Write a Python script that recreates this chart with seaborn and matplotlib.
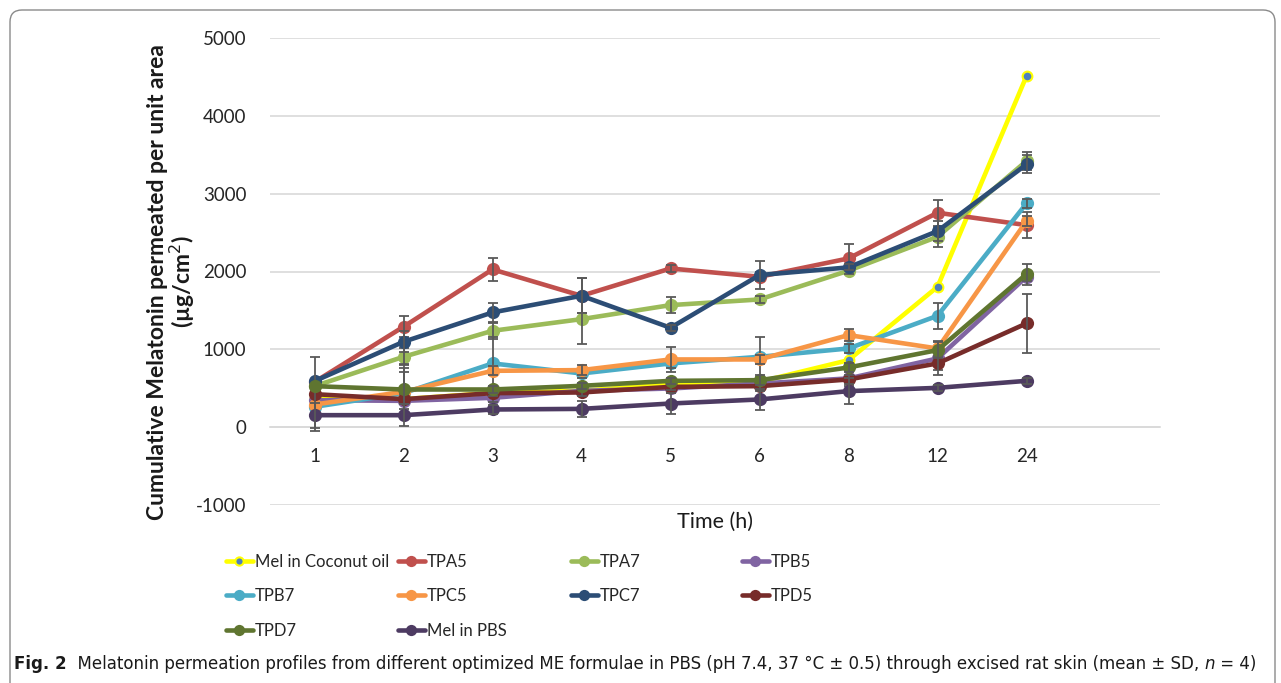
import numpy as np
import pandas as pd
import matplotlib
matplotlib.use("Agg")
import matplotlib.pyplot as plt
import seaborn as sns
from matplotlib.patches import FancyBboxPatch
from matplotlib.transforms import IdentityTransform

# ---------------- data ----------------
time_labels = ["1", "2", "3", "4", "5", "6", "8", "12", "24"]

mel_coconut = [369, 360, 441, 467, 553, 583, 861, 1803, 4511]
tpa5 = [580, 1290, 2027, 1688, 2039, 1932, 2168, 2755, 2596]
tpa7 = [527, 904, 1238, 1388, 1568, 1641, 2010, 2446, 3420]
tpb5 = [347, 338, 377, 467, 497, 561, 626, 883, 1932]
tpb7 = [261, 437, 819, 690, 819, 904, 1011, 1431, 2875]
tpc5 = [291, 454, 724, 733, 870, 870, 1183, 1011, 2648]
tpc7 = [591, 1097, 1474, 1688, 1277, 1954, 2053, 2519, 3376]
tpd5 = [424, 360, 437, 446, 518, 527, 613, 819, 1333]
tpd7 = [527, 484, 484, 531, 595, 604, 767, 990, 1967]
mel_pbs = [154, 154, 227, 235, 304, 356, 463, 505, 595]

sd_coconut = [0, 0, 0, 0, 0, 0, 0, 0, 0]
sd_tpa5 = [0, 135, 150, 225, 40, 60, 180, 170, 170]
sd_tpa7 = [0, 107, 100, 320, 107, 40, 40, 130, 115]
sd_tpb5 = [0, 100, 60, 60, 60, 60, 100, 150, 60]
sd_tpb7 = [0, 270, 340, 60, 60, 256, 60, 170, 60]
sd_tpc5 = [0, 300, 60, 60, 160, 60, 75, 100, 60]
sd_tpc7 = [0, 135, 120, 225, 40, 180, 40, 130, 115]
sd_tpd5 = [475, 60, 40, 40, 40, 60, 60, 150, 375]
sd_tpd7 = [0, 330, 40, 40, 40, 60, 60, 100, 135]
sd_pbs = [160, 140, 60, 107, 140, 140, 167, 40, 40]

series_names = ["Mel in Coconut oil", "TPA5", "TPA7", "TPB5", "TPB7",
                "TPC5", "TPC7", "TPD5", "TPD7", "Mel in PBS"]
series_values = [mel_coconut, tpa5, tpa7, tpb5, tpb7, tpc5, tpc7, tpd5, tpd7, mel_pbs]
series_sd = [sd_coconut, sd_tpa5, sd_tpa7, sd_tpb5, sd_tpb7, sd_tpc5, sd_tpc7,
             sd_tpd5, sd_tpd7, sd_pbs]
series_colors = ["#FFFF00", "#C0504D", "#9BBB59", "#8064A2", "#4BACC6",
                 "#F79646", "#2C4D75", "#772C2A", "#5F7530", "#4D3B62"]

y_ticks = [-1000, 0, 1000, 2000, 3000, 4000, 5000]

# ---------------- style ----------------
sns.set_theme(style="white")
plt.rcParams['font.family'] = ['Lato', 'DejaVu Sans']
W, H = 1281, 683
fig = plt.figure(figsize=(W / 100, H / 100), dpi=100)
fig.patch.set_facecolor("white")

ax = fig.add_axes([270 / W, 1 - 505 / H, 890 / W, 467 / H])

xpos = np.arange(len(time_labels))
for i, (name, vals, sd, col) in enumerate(zip(series_names, series_values, series_sd, series_colors)):
    z = 3 + i * 0.1
    vals = np.asarray(vals, float)
    sd = np.asarray(sd, float)
    if name == "Mel in Coconut oil":
        kw = dict(marker="o", markersize=7, markerfacecolor="#4F81BD",
                  markeredgecolor="#FFFF00", markeredgewidth=1.5)
    else:
        kw = dict(marker="o", markersize=9.5, markerfacecolor=col,
                  markeredgecolor=col, markeredgewidth=0)
    sns.lineplot(x=xpos, y=vals, color=col, linewidth=3.3, label=name,
                 sort=False, errorbar=None, ax=ax, zorder=z, **kw)
    m = sd > 0
    if m.any():
        ax.errorbar(xpos[m], vals[m], yerr=sd[m], fmt="none", ecolor="#595959",
                    elinewidth=1.3, capsize=3.5, capthick=1.3, zorder=z + 0.05)

# spines first (set_position resets ticks)
for s in ["top", "right", "left"]:
    ax.spines[s].set_visible(False)
ax.spines["bottom"].set_position(("data", 0))
ax.spines["bottom"].set_color("#D9D9D9")
ax.spines["bottom"].set_linewidth(1.2)

ax.set_xlim(-0.5, 9.5)
ax.set_ylim(-1000, 5000)
ax.set_yticks(y_ticks)
ax.set_yticklabels([str(t) for t in y_ticks])
ax.set_xticks(xpos)
ax.set_xticklabels(time_labels)
ax.tick_params(axis="both", length=0, labelsize=13.5, labelcolor="#262626")
ax.tick_params(axis="x", pad=15)
ax.tick_params(axis="y", pad=17)
ax.yaxis.grid(True, color="#D9D9D9", linewidth=1.2)
ax.xaxis.grid(False)
ax.set_axisbelow(True)

ax.set_ylabel("Cumulative Melatonin permeated per unit area\n(µg/cm$^{2}$)",
              fontsize=16.5, fontweight="bold", color="#1a1a1a", linespacing=1.0, va="center")
ax.yaxis.set_label_coords((172 - 270) / 890, (505 - 282) / 467)
ax.set_xlabel("Time (h)", fontsize=15.5, color="#1a1a1a", va="center")
ax.xaxis.set_label_coords(0.5, (505 - 522) / 467)

# legend: 4 columns laid out row-wise, uniform column width
handles, labels = ax.get_legend_handles_labels()
if ax.get_legend() is not None:
    ax.get_legend().remove()
hmap = dict(zip(labels, handles))
columns = [["Mel in Coconut oil", "TPB7", "TPD7"],
           ["TPA5", "TPC5", "Mel in PBS"],
           ["TPA7", "TPC7"],
           ["TPB5", "TPD5"]]
col_x = [226, 398, 571, 742]
for cx, names in zip(col_x, columns):
    fig.legend([hmap[n] for n in names], names, loc="upper left",
               bbox_to_anchor=(cx / W, 1 - 554 / H), frameon=False,
               fontsize=12, handlelength=1.6, handletextpad=0.12,
               labelspacing=1.1, borderpad=0, borderaxespad=0, markerscale=0.85)

# border
border = FancyBboxPatch((10, -30), 1265, 673 + 30 - 0,
                        boxstyle="round,pad=0,rounding_size=12",
                        transform=IdentityTransform(), facecolor="none",
                        edgecolor="#8a8a8a", linewidth=1.0)
fig.patches.append(border)

# caption
fig.canvas.draw()
renderer = fig.canvas.get_renderer()
segments = [("Fig. 2", "bold", "normal"),
            ("  Melatonin permeation profiles from different optimized ME formulae in PBS (pH 7.4, 37 °C ± 0.5) through excised rat skin (mean ± SD, ", "normal", "normal"),
            ("n", "normal", "italic"),
            (" = 4)", "normal", "normal")]
cap_family = ["DejaVu Sans"]
x = 14 / W
ybase = 1 - 669 / H
for txt, fw, st in segments:
    t = fig.text(x, ybase, txt, fontsize=12, fontweight=fw, fontstyle=st,
                 family=cap_family, color="#1a1a1a", va="baseline", ha="left")
    bb = t.get_window_extent(renderer=renderer)
    x = x + bb.width / W

fig.savefig("out.png", dpi=100, facecolor="white")
